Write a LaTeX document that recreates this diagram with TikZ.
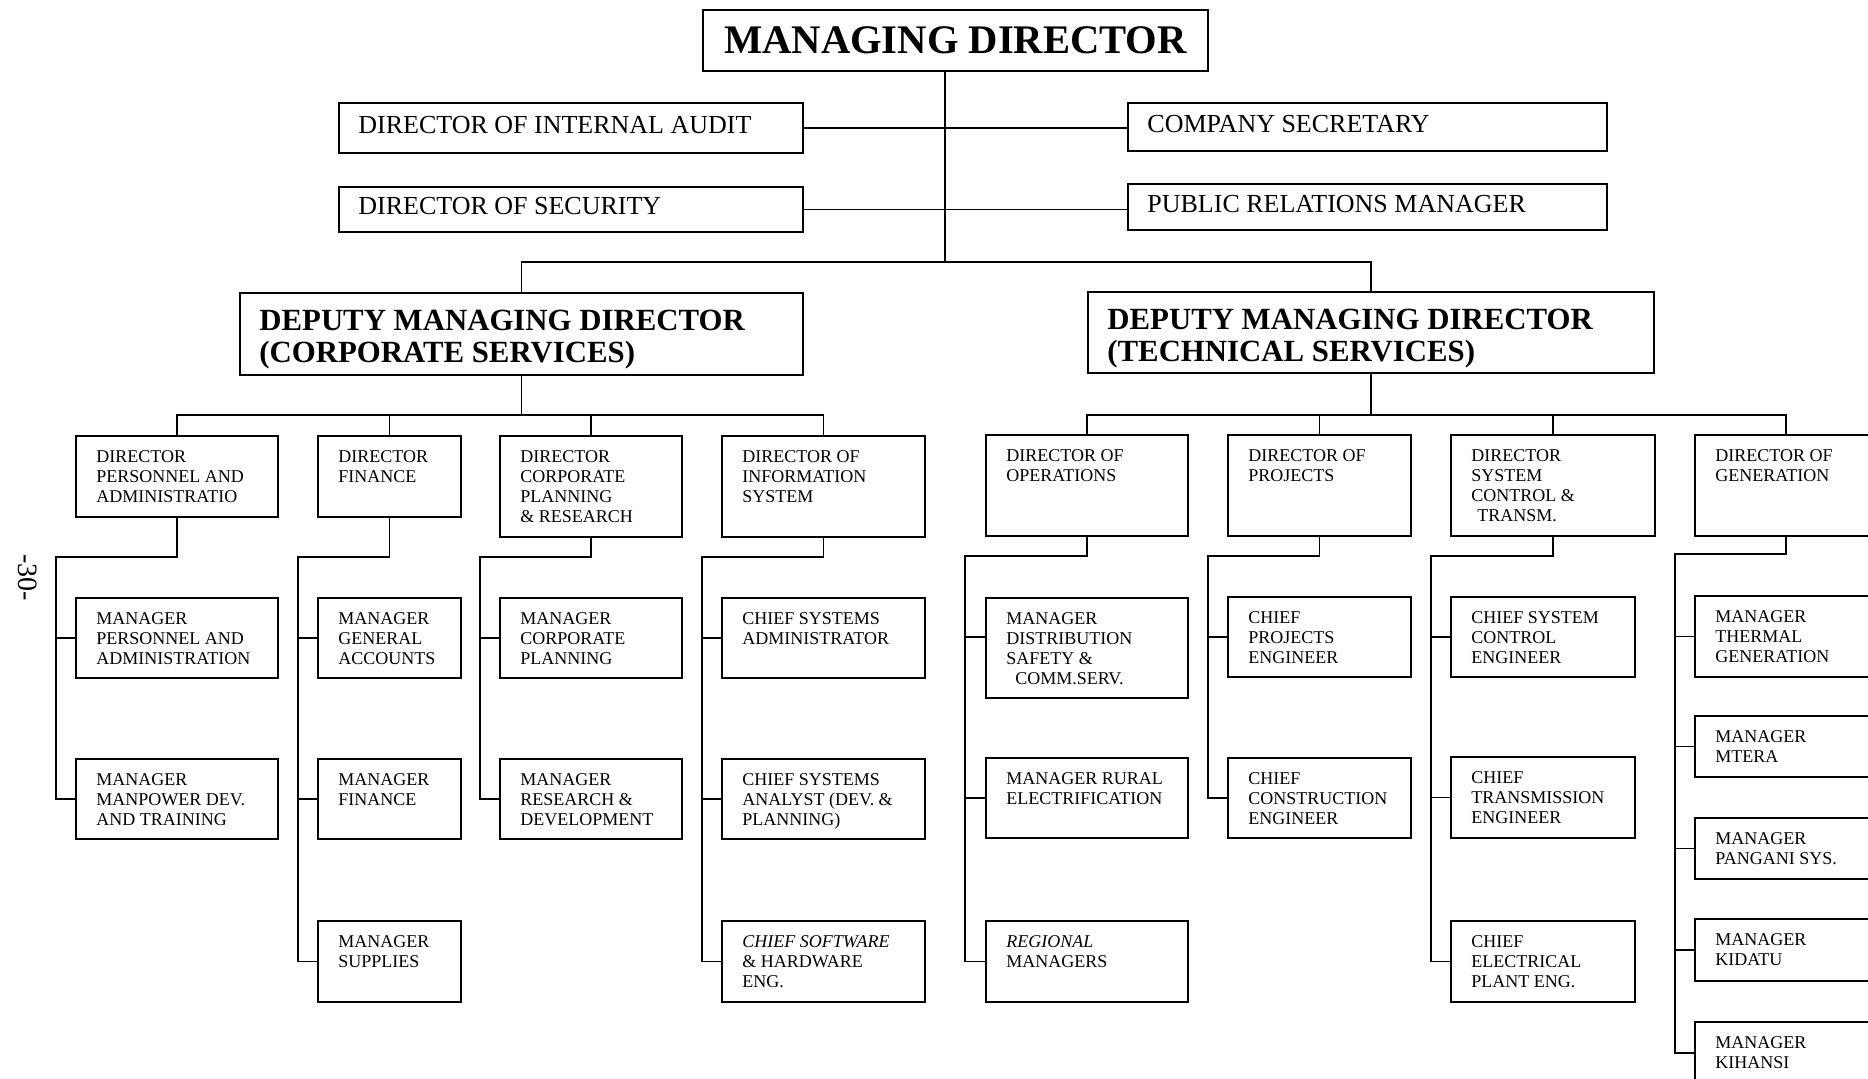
\documentclass[tikz,border=0pt]{standalone}
\usepackage{fontspec}
\setmainfont{Liberation Serif}
\usetikzlibrary{positioning}

\tikzset{
  post/.style={draw, line width=1pt, inner sep=0pt, outer sep=0pt},
  dims/.style 2 args={minimum width=#1, minimum height=#2},
  under/.style={below=#1, anchor=north west},
  lower/.style={anchor=north west, align=left, inner sep=0pt, xshift=10pt, yshift=-7pt,
    font=\fontsize{9}{10}\selectfont},
  upper/.style={anchor=west, inner sep=0pt, xshift=9.5pt, yshift=1.5pt, font=\fontsize{13}{15}\selectfont},
  deputy/.style={anchor=north west, align=left, inner sep=0pt, xshift=9.5pt, yshift=-8.5pt,
    font=\bfseries\fontsize{15.4}{16}\selectfont},
  link/.style={line width=0.9pt},
}

\begin{document}
\begin{tikzpicture}[x=0.5pt, y=-0.5pt]
    \useasboundingbox (0,0) rectangle (1868,1079);
    \clip (0,0) rectangle (1868,1079);

    \node[rotate=-90, font=\fontsize{14}{14}\selectfont] (pnum) at (28,578) {-30-};

    % top of the chart
    \node[post, dims={252.5pt}{30.5pt}, font=\bfseries\fontsize{20.3}{22}\selectfont] (md) at (955.5,40.5) {MANAGING DIRECTOR};
    \node[post, dims={232pt}{25pt}, anchor=north west, label={[upper]west:DIRECTOR OF INTERNAL AUDIT}] (audit) at (339,103) {};
    \node[post, dims={239.5pt}{24pt}, anchor=north west, label={[upper]west:COMPANY SECRETARY}] (csec) at (1128,103) {};
    \node[post, dims={232pt}{22.5pt}, anchor=north west, label={[upper]west:DIRECTOR OF SECURITY}] (sec) at (339,187) {};
    \node[post, dims={239.5pt}{23pt}, anchor=north west, label={[upper]west:PUBLIC RELATIONS MANAGER}] (pr) at (1128,184) {};
    \node[post, dims={281.5pt}{41pt}, anchor=north west, label={[deputy]north west:DEPUTY MANAGING DIRECTOR\\(CORPORATE SERVICES)}] (dmdc) at (240,293) {};
    \node[post, dims={283pt}{40.5pt}, anchor=north west, label={[deputy]north west:DEPUTY MANAGING DIRECTOR\\(TECHNICAL SERVICES)}] (dmdt) at (1088,292) {};

    % corporate services
    \node[post, dims={101pt}{40.5pt}, anchor=north west, label={[lower]north west:DIRECTOR\\PERSONNEL AND\\ADMINISTRATIO}] (dpers) at (76,436) {};
    \node[post, dims={71.5pt}{40.5pt}, anchor=north west, label={[lower]north west:DIRECTOR\\FINANCE}] (dfin) at (318,436) {};
    \node[post, dims={91pt}{50.5pt}, anchor=north west, label={[lower]north west:DIRECTOR\\CORPORATE\\PLANNING\\\& RESEARCH}] (dcorp) at (500,436) {};
    \node[post, dims={101.5pt}{50.5pt}, anchor=north west, label={[lower]north west:DIRECTOR OF\\INFORMATION\\SYSTEM}] (dinfo) at (722,436) {};

    \node[post, dims={101pt}{40pt}, under=40.5pt of dpers.south west, label={[lower]north west:MANAGER\\PERSONNEL AND\\ADMINISTRATION}] (mpers) {};
    \node[post, dims={101pt}{40pt}, under=40.5pt of mpers.south west, label={[lower]north west:MANAGER\\MANPOWER DEV.\\AND TRAINING}] (mmanp) {};
    \node[post, dims={71.5pt}{40pt}, under=40.5pt of dfin.south west, label={[lower]north west:MANAGER\\GENERAL\\ACCOUNTS}] (mgen) {};
    \node[post, dims={71.5pt}{40pt}, under=40.5pt of mgen.south west, label={[lower]north west:MANAGER\\FINANCE}] (mfin) {};
    \node[post, dims={71.5pt}{40.5pt}, under=41pt of mfin.south west, label={[lower]north west:MANAGER\\SUPPLIES}] (msup) {};
    \node[post, dims={91pt}{40pt}, under=30.5pt of dcorp.south west, label={[lower]north west:MANAGER\\CORPORATE\\PLANNING}] (mcorp) {};
    \node[post, dims={91pt}{40pt}, under=40.5pt of mcorp.south west, label={[lower]north west:MANAGER\\RESEARCH \&\\DEVELOPMENT}] (mrd) {};
    \node[post, dims={101.5pt}{40pt}, under=30.5pt of dinfo.south west, label={[lower]north west:CHIEF SYSTEMS\\ADMINISTRATOR}] (csa) {};
    \node[post, dims={101.5pt}{40pt}, under=40.5pt of csa.south west, label={[lower]north west:CHIEF SYSTEMS\\ANALYST (DEV. \&\\PLANNING)}] (csan) {};
    \node[post, dims={101.5pt}{40.5pt}, under=41pt of csan.south west, label={[lower]north west:\textit{CHIEF SOFTWARE}\\\& HARDWARE\\ENG.}] (csw) {};

    % technical services
    \node[post, dims={101pt}{50.5pt}, anchor=north west, label={[lower]north west:DIRECTOR OF\\OPERATIONS}] (dops) at (986,435) {};
    \node[post, dims={91.5pt}{50.5pt}, anchor=north west, label={[lower]north west:DIRECTOR OF\\PROJECTS}] (dproj) at (1228,435) {};
    \node[post, dims={102pt}{50.5pt}, anchor=north west, label={[lower]north west:DIRECTOR\\SYSTEM\\CONTROL \&\\\hspace{3pt}TRANSM.}] (dsys) at (1451,435) {};
    \node[post, dims={91pt}{50.5pt}, anchor=north west, label={[lower]north west:DIRECTOR OF\\GENERATION}] (dgen) at (1695,435) {};

    \node[post, dims={101pt}{50pt}, under=31pt of dops.south west, label={[lower]north west:MANAGER\\DISTRIBUTION\\SAFETY \&\\\hspace{4.5pt}COMM.SERV.}] (mdist) {};
    \node[post, dims={101pt}{40pt}, under=30pt of mdist.south west, label={[lower]north west:MANAGER RURAL\\ELECTRIFICATION}] (mrural) {};
    \node[post, dims={101pt}{40.5pt}, under=41.5pt of mrural.south west, label={[lower]north west:\textit{REGIONAL}\\MANAGERS}] (mreg) {};
    \node[post, dims={91.5pt}{40pt}, under=30.5pt of dproj.south west, label={[lower]north west:CHIEF\\PROJECTS\\ENGINEER}] (cproj) {};
    \node[post, dims={91.5pt}{40pt}, under=40.5pt of cproj.south west, label={[lower]north west:CHIEF\\CONSTRUCTION\\ENGINEER}] (ccons) {};
    \node[post, dims={92pt}{40pt}, under=30.5pt of dsys.south west, label={[lower]north west:CHIEF SYSTEM\\CONTROL\\ENGINEER}] (csys) {};
    \node[post, dims={92pt}{40.5pt}, under=40pt of csys.south west, label={[lower]north west:CHIEF\\TRANSMISSION\\ENGINEER}] (ctrans) {};
    \node[post, dims={92pt}{40.5pt}, under=41.5pt of ctrans.south west, label={[lower]north west:CHIEF\\ELECTRICAL\\PLANT ENG.}] (celec) {};
    \node[post, dims={91pt}{40.5pt}, under=30pt of dgen.south west, label={[lower]north west:MANAGER\\THERMAL\\GENERATION}] (mtherm) {};
    \node[post, dims={91pt}{30.5pt}, under=19.5pt of mtherm.south west, label={[lower]north west:MANAGER\\MTERA}] (mmtera) {};
    \node[post, dims={91pt}{30.5pt}, under=20.5pt of mmtera.south west, label={[lower]north west:MANAGER\\PANGANI SYS.}] (mpang) {};
    \node[post, dims={91pt}{31pt}, under=20pt of mpang.south west, label={[lower]north west:MANAGER\\KIDATU}] (mkid) {};
    \node[post, dims={91pt}{31pt}, under=20.5pt of mkid.south west, label={[lower]north west:MANAGER\\KIHANSI}] (mkih) {};

    % connectors
    \coordinate (hub) at (945,262);
    \draw[line width=0.6pt] (md.south -| hub) -- (hub);
    \draw[link] (audit.east) -- (audit.east -| csec.west);
    \draw[link] (sec.east) -- (sec.east -| pr.west);
    \draw[link] (dmdc.north) |- (hub) -| (dmdt.north);

    \draw[link] (dmdc.south) -- ++(0,40) coordinate (cbus);
    \draw[link] (dpers.north) |- (cbus) -| (dinfo.north);
    \foreach \d in {dfin, dcorp} \draw[link] (\d.north) -- (\d.north |- cbus);
    \draw[link] (dmdt.south) -- ++(0,42) coordinate (tbus);
    \draw[link] (dops.north) |- (tbus) -| (dgen.north);
    \foreach \d in {dproj, dsys} \draw[link] (\d.north) -- (\d.north |- tbus);

    \draw[link] (dpers.south) -- ++(0,40) -| ([xshift=-10pt]mmanp.west) -- (mmanp.west);
    \draw[link] (dfin.south) -- ++(0,40) -| ([xshift=-10pt]msup.west) -- (msup.west);
    \draw[link] (dcorp.south) -- ++(0,20) -| ([xshift=-10pt]mrd.west) -- (mrd.west);
    \draw[link] (dinfo.south) -- ++(0,20) -| ([xshift=-10pt]csw.west) -- (csw.west);
    \draw[link] (dops.south) -- ++(0,20) -| ([xshift=-10.5pt]mreg.west) -- (mreg.west);
    \draw[link] (dproj.south) -- ++(0,20) -| ([xshift=-10pt]ccons.west) -- (ccons.west);
    \draw[link] (dsys.south) -- ++(0,20) -| ([xshift=-10pt]celec.west) -- (celec.west);
    \draw[link] (dgen.south) -- ++(0,18) -| ([xshift=-10pt]mkih.west) -- (mkih.west);
    \foreach \m in {mpers, mgen, mfin, mcorp, csa, csan, mrural, cproj, csys, ctrans, mtherm, mmtera, mpang, mkid}
      \draw[link] (\m.west) -- ++(-20,0);
    \draw[link] ([yshift=5.5pt]mdist.west) -- ++(-21,0);
\end{tikzpicture}
\end{document}
